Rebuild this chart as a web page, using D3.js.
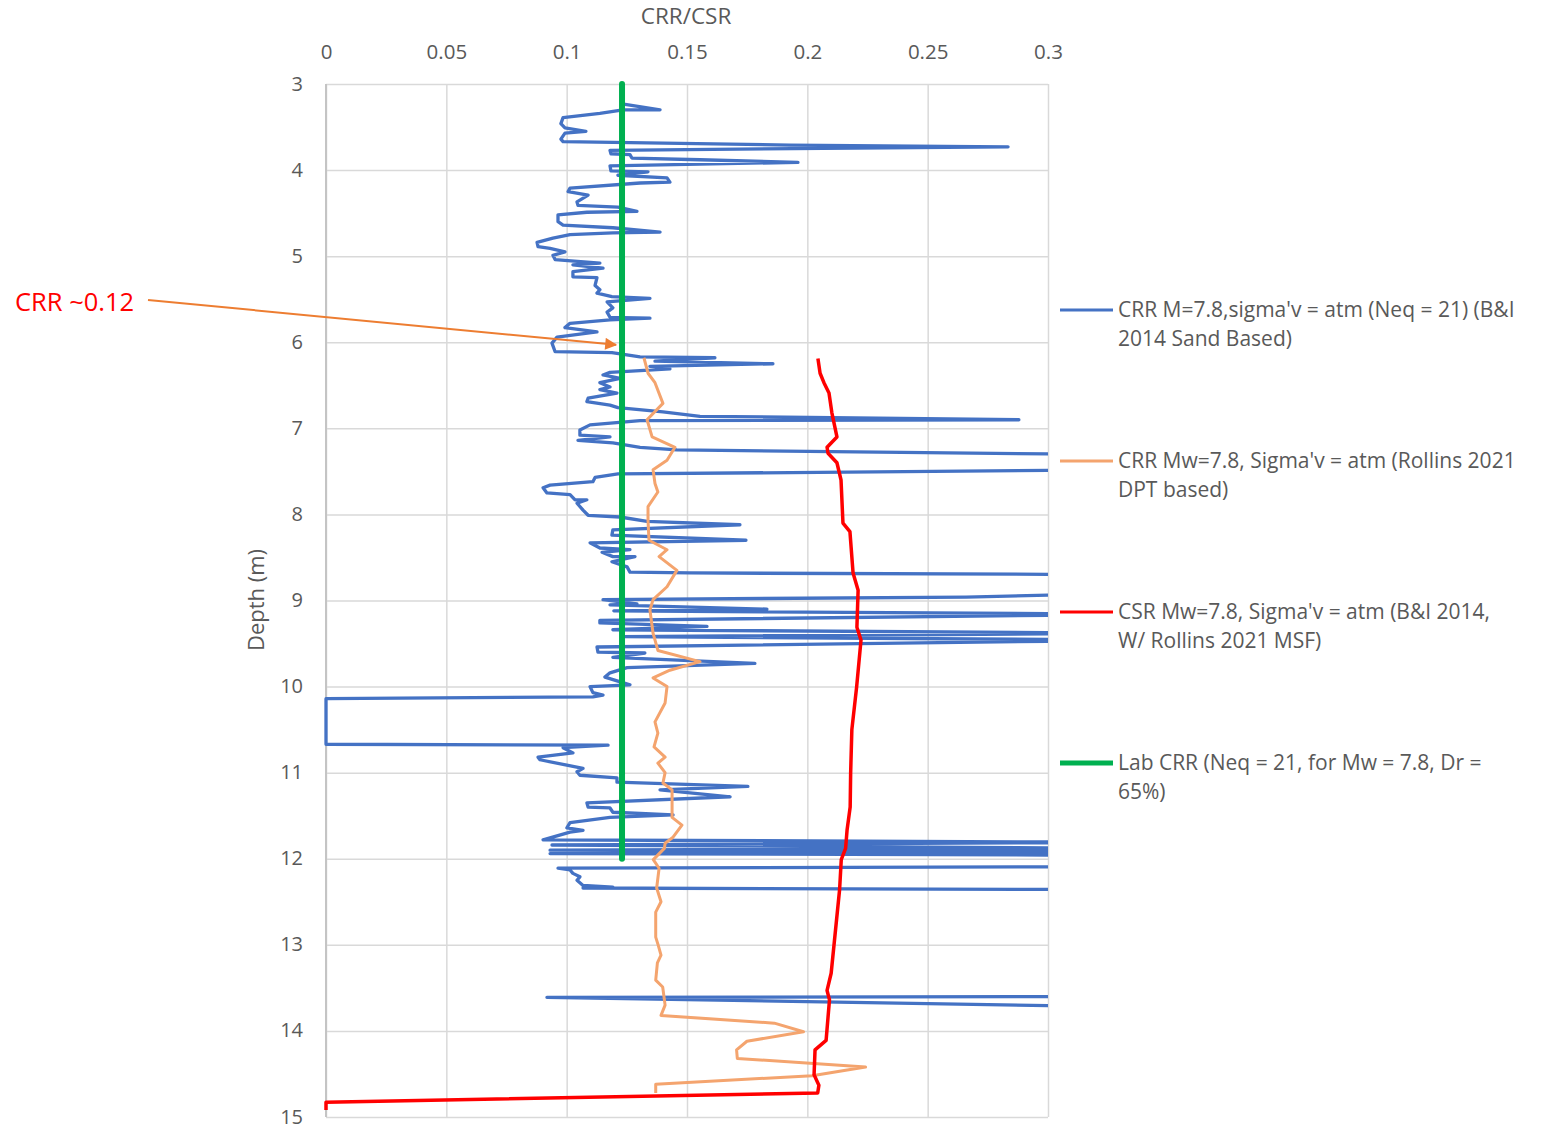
<!DOCTYPE html>
<html>
<head>
<meta charset="utf-8">
<script src="https://cdn.jsdelivr.net/npm/d3@7"></script>
<style>
  body { margin: 0; background: #fff; }
  svg text { font-family: "Open Sans", "Liberation Sans", sans-serif; fill: #595959; }
  .grid line { stroke: #d9d9d9; stroke-width: 1.5; }
  .grid .domain { display: none; }
</style>
</head>
<body>
<div id="chart"></div>
<script>
// tick values
var xTicks = [0, 0.05, 0.1, 0.15, 0.2, 0.25, 0.3];
var depthTicks = [3, 4, 5, 6, 7, 8, 9, 10, 11, 12, 13, 14, 15];

// CRR B&I 2014 sand based  [depth, CRR]   (values past 0.3 run off the plot)
var crrBI = [
  [3.23,0.1230],[3.30,0.1388],[3.30,0.1234],[3.34,0.1138],[3.39,0.0985],[3.46,0.0976],[3.51,0.0993],[3.55,0.1080],[3.57,0.0993],[3.64,0.0976],
  [3.67,0.0985],[3.71,0.1928],[3.73,0.2834],[3.77,0.1180],[3.81,0.1184],[3.82,0.1263],[3.86,0.1271],[3.88,0.1554],[3.91,0.1961],[3.95,0.1180],
  [4.01,0.1184],[4.02,0.1338],[4.06,0.1213],[4.09,0.1417],[4.14,0.1429],[4.15,0.1305],[4.21,0.1014],[4.25,0.1006],[4.29,0.1089],[4.37,0.1043],
  [4.41,0.1047],[4.43,0.1213],[4.48,0.1292],[4.49,0.1084],[4.52,0.0964],[4.60,0.0964],[4.64,0.0985],[4.67,0.1192],[4.72,0.1388],[4.73,0.1192],
  [4.75,0.1014],[4.79,0.0943],[4.84,0.0877],[4.89,0.0881],[4.91,0.0931],[4.95,0.0993],[4.99,0.0943],[5.04,0.0952],[5.08,0.1138],[5.10,0.1026],
  [5.14,0.1151],[5.18,0.1026],[5.24,0.1026],[5.25,0.1126],[5.34,0.1118],[5.39,0.1138],[5.43,0.1126],[5.47,0.1188],[5.49,0.1346],[5.53,0.1168],
  [5.60,0.1192],[5.65,0.1168],[5.71,0.1180],[5.72,0.1346],[5.74,0.1180],[5.78,0.1014],[5.83,0.0993],[5.88,0.1126],[5.94,0.0960],[6.01,0.0939],
  [6.11,0.0952],[6.12,0.1188],[6.17,0.1305],[6.18,0.1616],[6.22,0.1367],[6.25,0.1857],[6.28,0.1346],[6.31,0.1429],[6.35,0.1180],[6.38,0.1151],
  [6.42,0.1222],[6.47,0.1138],[6.52,0.1180],[6.55,0.1138],[6.59,0.1209],[6.65,0.1089],[6.69,0.1084],[6.73,0.1180],[6.76,0.1213],[6.81,0.1400],
  [6.86,0.1554],[6.90,0.2879],[6.91,0.1305],[6.96,0.1097],[7.02,0.1055],[7.08,0.1055],[7.10,0.1180],[7.14,0.1047],[7.17,0.1192],[7.22,0.1305],
  [7.25,0.1458],[7.31,0.34],[7.48,0.34],[7.53,0.1213],[7.57,0.1118],[7.62,0.1109],[7.66,0.0931],[7.69,0.0902],[7.75,0.0918],[7.77,0.1014],
  [7.83,0.1035],[7.83,0.1084],[7.87,0.1043],[7.95,0.1068],[8.01,0.1089],[8.03,0.1222],[8.08,0.1334],[8.12,0.1720],[8.18,0.1192],[8.24,0.1188],
  [8.30,0.1745],[8.33,0.1097],[8.39,0.1138],[8.41,0.1263],[8.44,0.1147],[8.49,0.1192],[8.49,0.1284],[8.55,0.1188],[8.61,0.1251],[8.67,0.1263],
  [8.68,0.1512],[8.70,0.34],[8.91,0.34],[8.96,0.2659],[8.99,0.1151],[9.04,0.1292],[9.05,0.1180],[9.10,0.1832],[9.12,0.1196],[9.16,0.34],
  [9.23,0.1138],[9.26,0.1138],[9.30,0.1583],[9.34,0.1192],[9.38,0.34],[9.42,0.1230],[9.46,0.34],[9.54,0.1126],[9.60,0.1130],[9.61,0.1325],
  [9.66,0.1192],[9.73,0.1782],[9.78,0.1251],[9.84,0.1180],[9.89,0.1159],[9.98,0.1263],[10.00,0.1097],[10.07,0.1109],[10.10,0.1151],[10.12,0.1109],
  [10.14,0],[10.67,0],[10.68,0.1172],[10.71,0.0985],[10.77,0.1026],[10.82,0.0881],[10.85,0.0889],[10.95,0.1068],[10.99,0.1043],[11.03,0.1055],
  [11.06,0.1209],[11.11,0.1209],[11.16,0.1753],[11.20,0.1388],[11.28,0.1679],[11.35,0.1084],[11.40,0.1089],[11.41,0.1180],[11.46,0.1192],[11.49,0.1442],
  [11.52,0.1180],[11.58,0.1014],[11.64,0.1001],[11.67,0.1068],[11.69,0.1014],[11.78,0.0902],[11.81,0.34],[11.84,0.0939],[11.88,0.34],[11.90,0.0931],
  [11.92,0.34],[11.94,0.0931],[11.96,0.34],[12.09,0.34],[12.11,0.0964],[12.13,0.1014],[12.17,0.1026],[12.21,0.1055],[12.25,0.1043],[12.31,0.1068],
  [12.33,0.1192],[12.34,0.1068],[12.36,0.34],[13.60,0.34],[13.61,0.0918],[13.80,0.5]
];

// CRR Rollins 2021 DPT based  [depth, CRR]
var crrRollins = [
  [6.18,0.1321],[6.36,0.1338],[6.47,0.1367],[6.71,0.1400],[6.90,0.1334],[7.10,0.1355],[7.22,0.1450],[7.37,0.1417],[7.48,0.1359],[7.64,0.1367],
  [7.74,0.1379],[7.91,0.1338],[8.07,0.1338],[8.30,0.1342],[8.41,0.1417],[8.49,0.1384],[8.65,0.1458],[8.84,0.1417],[8.99,0.1359],[9.11,0.1346],
  [9.38,0.1359],[9.58,0.1379],[9.71,0.1554],[9.81,0.1429],[9.90,0.1359],[10.00,0.1417],[10.19,0.1409],[10.41,0.1367],[10.54,0.1379],[10.70,0.1363],
  [10.82,0.1409],[10.89,0.1379],[11.00,0.1409],[11.12,0.1400],[11.20,0.1438],[11.52,0.1438],[11.61,0.1479],[11.75,0.1442],[11.82,0.1409],[11.88,0.1406],
  [12.01,0.1360],[12.11,0.1384],[12.34,0.1374],[12.50,0.1392],[12.62,0.1370],[12.91,0.1370],[13.00,0.1380],[13.12,0.1392],[13.21,0.1377],[13.41,0.1370],
  [13.49,0.1399],[13.70,0.1409],[13.82,0.1392],[13.91,0.1863],[14.01,0.1984],[14.12,0.1749],[14.22,0.1706],[14.32,0.1709],[14.42,0.2242],[14.52,0.2020],
  [14.62,0.1370],[14.72,0.1370]
];

// CSR B&I 2014 w/ Rollins 2021 MSF  [depth, CSR]
var csr = [
  [6.19,0.2044],[6.36,0.2053],[6.47,0.2069],[6.59,0.2090],[6.82,0.2102],[7.10,0.2123],[7.22,0.2082],[7.29,0.2086],[7.40,0.2123],[7.60,0.2140],
  [8.10,0.2148],[8.20,0.2177],[8.68,0.2190],[8.88,0.2211],[9.31,0.2206],[9.46,0.2223],[10.00,0.2205],[10.50,0.2185],[11.00,0.2180],[11.40,0.2178],
  [11.67,0.2165],[11.88,0.2159],[12.01,0.2141],[12.36,0.2134],[13.33,0.2099],[13.53,0.2082],[13.64,0.2092],[14.11,0.2078],[14.22,0.2032],[14.51,0.2028],
  [14.63,0.2048],[14.72,0.2043],[14.83,0],[14.92,0]
];

// Lab CRR  [depth, CRR]
var labCRR = [[3, 0.123], [12, 0.123]];

var legendLabels = [
  ["CRR M=7.8,sigma'v = atm (Neq = 21) (B&I", "2014 Sand Based)"],
  ["CRR Mw=7.8, Sigma'v = atm (Rollins 2021", "DPT based)"],
  ["CSR Mw=7.8, Sigma'v = atm (B&I 2014,", "W/ Rollins 2021 MSF)"],
  ["Lab CRR (Neq = 21, for Mw = 7.8, Dr =", "65%)"]
];

var W = 1547, H = 1128;
var margin = {top: 84, left: 326, right: 499, bottom: 11};
var pw = W - margin.left - margin.right, ph = H - margin.top - margin.bottom;

var svg = d3.select("#chart").append("svg").attr("width", W).attr("height", H);

var x = d3.scaleLinear().domain([0, 0.3]).range([0, pw]);
var y = d3.scaleLinear().domain([3, 15]).range([0, ph]);

var g = svg.append("g").attr("transform", "translate(" + margin.left + "," + margin.top + ")");

svg.append("defs").append("clipPath").attr("id", "plotClip")
  .append("rect").attr("x", -2).attr("y", -2).attr("width", pw + 2).attr("height", ph + 4);

// grid
g.append("g").attr("class", "grid")
  .attr("transform", "translate(0," + ph + ")")
  .call(d3.axisBottom(x).tickValues(xTicks).tickSize(-ph).tickFormat(""));
g.append("g").attr("class", "grid")
  .call(d3.axisLeft(y).tickValues(depthTicks).tickSize(-pw).tickFormat(""));

g.append("line").attr("x1", 0).attr("x2", 0).attr("y1", 0).attr("y2", ph)
  .attr("stroke", "#c4c4c4").attr("stroke-width", 2);

// tick labels
var topAx = g.append("g").call(d3.axisTop(x).tickValues(xTicks).tickSize(0).tickPadding(25).tickFormat(function(d){ return String(d); }));
topAx.select(".domain").remove();
topAx.selectAll("text").attr("font-size", 20.5).style("font-family", "'Open Sans', sans-serif").attr("fill", "#595959");

var leftAx = g.append("g").call(d3.axisLeft(y).tickValues(depthTicks).tickSize(0).tickPadding(23));
leftAx.select(".domain").remove();
leftAx.selectAll("text").attr("font-size", 20).attr("dy", "0.3em").style("font-family", "'Open Sans', sans-serif").attr("fill", "#595959");

svg.append("text").attr("x", 686).attr("y", 24).attr("text-anchor", "middle")
  .attr("font-size", 22.5).text("CRR/CSR");
svg.append("text").attr("transform", "translate(264,600) rotate(-90)").attr("text-anchor", "middle")
  .attr("font-size", 22).text("Depth (m)");

// series
var line = d3.line().x(function(d){ return x(d[1]); }).y(function(d){ return y(d[0]); });
var plot = g.append("g").attr("clip-path", "url(#plotClip)");

plot.append("path").datum(crrBI).attr("d", line)
  .attr("fill", "none").attr("stroke", "#4472C4").attr("stroke-width", 3.3).attr("stroke-linejoin", "round");
plot.append("path").datum(crrRollins).attr("d", line)
  .attr("fill", "none").attr("stroke", "#F4A46E").attr("stroke-width", 3).attr("stroke-linejoin", "round");
plot.append("path").datum(csr).attr("d", line)
  .attr("fill", "none").attr("stroke", "#FF0000").attr("stroke-width", 3.5).attr("stroke-linejoin", "round");
g.append("path").datum(labCRR).attr("d", line)
  .attr("fill", "none").attr("stroke", "#00B050").attr("stroke-width", 6).attr("stroke-linecap", "round");

// annotation
svg.append("defs").append("marker").attr("id", "arrowHead")
  .attr("viewBox", "0 0 10 10").attr("refX", 9).attr("refY", 5)
  .attr("markerWidth", 7).attr("markerHeight", 6).attr("markerUnits", "strokeWidth").attr("orient", "auto")
  .append("path").attr("d", "M0,0 L10,5 L0,10 Z").attr("fill", "#ED7D31");
svg.append("line")
  .attr("x1", 148).attr("y1", 300)
  .attr("x2", margin.left + x(0.1205)).attr("y2", margin.top + y(6.03))
  .attr("stroke", "#ED7D31").attr("stroke-width", 2).attr("marker-end", "url(#arrowHead)");
svg.append("text").attr("x", 15).attr("y", 311).attr("font-size", 25.5)
  .style("fill", "#FF0000").text("CRR ~0.12");

// legend
var legColors = ["#4472C4", "#F4A46E", "#FF0000", "#00B050"];
var legWidths = [3, 3, 3, 5];
var legY = [310, 461, 612, 763];
legendLabels.forEach(function(lab, i){
  var lg = svg.append("g").attr("transform", "translate(1060," + legY[i] + ")");
  lg.append("line").attr("x1", 0).attr("x2", 53).attr("y1", 0).attr("y2", 0)
    .attr("stroke", legColors[i]).attr("stroke-width", legWidths[i]);
  lg.append("text").attr("x", 58).attr("y", 7).attr("font-size", 21).text(lab[0]);
  lg.append("text").attr("x", 58).attr("y", 36).attr("font-size", 21).text(lab[1]);
});
</script>
</body>
</html>
